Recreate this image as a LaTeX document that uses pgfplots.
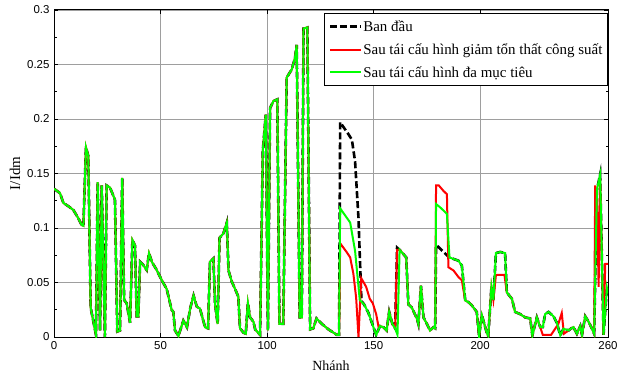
\documentclass[border=0pt]{standalone}
\usepackage{fontspec}
\setmainfont{Liberation Serif}
\newfontfamily\ticksf{Liberation Sans}
\usepackage{pgfplots}
\pgfplotsset{compat=1.18}
\definecolor{mgreen}{RGB}{0,255,0}
\definecolor{mred}{RGB}{255,0,0}
\begin{document}
\begin{tikzpicture}
\begin{axis}[
  name=ax,
  scale only axis,
  width=554bp, height=327bp,
  xmin=0, xmax=260, ymin=0, ymax=0.3,
  xtick={0,50,100,150,200,260},
  xticklabels={0,50,100,150,200,260},
  ytick={0,0.05,0.1,0.15,0.2,0.25,0.3},
  yticklabels={0,0.05,0.1,0.15,0.2,0.25,0.3},
  minor y tick num=1,
  tick align=inside,
  major tick length=4bp, minor tick length=2.5bp,
  tick style={black, line width=0.6bp},
  /pgf/number format/assume math mode=true,
  ticklabel style={font=\ticksf\fontsize{11.5}{13}\selectfont},
  yticklabel style={xshift=-1bp},
  xticklabel style={yshift=-1bp},
  grid=major,
  major grid style={black!38, line width=0.6bp},
  axis line style={black, line width=1bp},
  xlabel={Nhánh},
  ylabel={I/Idm},
  every axis x label/.style={at={(axis description cs:0.5,-0.0887)}, anchor=center, font=\fontsize{14}{16}\selectfont},
  every axis y label/.style={at={(axis description cs:-0.0704,0.5)}, rotate=90, anchor=center, font=\fontsize{15}{17}\selectfont},
  legend style={at={(rel axis cs:1,1)}, anchor=north east, yshift=-3bp,
    draw=black, line width=1.2bp, fill=white,
    font=\fontsize{15}{17}\selectfont, inner xsep=4bp, inner ysep=6bp, row sep=8.5bp,
    nodes={inner sep=1bp}},
  legend cell align=left,
  legend image code/.code={\draw[#1] plot coordinates {(0bp,0bp) (31bp,0bp)};},
]
% Ban dau
\addplot[black, line width=2.6bp, dash pattern=on 7bp off 3bp] coordinates {
(0,.136)(2.8,.132)(4.4,.123)(6.7,.120)(9.1,.1165)(11.4,.109)(13,.1027)(13.8,.102)(15,.174)(16.1,.166)(17.2,.027)(19.7,.002)(20.5,.142)(21.6,.006)(22.4,.139)(23.9,0)(24.7,.139)(26.3,.137)(28.6,.126)(29.7,.005)(31,.006)(32,.146)(32.9,.034)(34.1,.031)(35.7,.013)(36.8,.089)(38,.084)(38.8,.019)(39.6,.019)(40.4,.069)(41.9,.066)(43.5,.0615)(44.6,.0768)(45.9,.069)(48.2,.0615)(50.6,.052)(52.9,.044)(55.2,.025)(56,.023)(56.8,.006)(58.4,.001)(60.7,.015)(62.4,.009)(64,.027)(65.5,.038)(67,.028)(68.5,.026)(69.5,.019)(70.9,.009)(72.3,.008)(73.2,.069)(74.8,.072)(75.6,.030)(76.8,.012)(77.7,.091)(79.5,.095)(81.1,.105)(81.9,.061)(83.4,.051)(85,.044)(86.5,.037)(87.3,.008)(88.9,.004)(90,.003)(91,.031)(92,.018)(93.6,.014)(94.4,.007)(96.7,.002)(98,.171)(99.4,.204)(100.4,.006)(101.4,.210)(103,.2165)(104.8,.218)(105.8,.012)(107.6,.012)(109.2,.238)(111.6,.2455)(113.1,.256)(113.9,.268)(115.3,.018)(116.3,.018)(117.1,.283)(118.9,.284)(120.2,.007)(121.7,.008)(123.2,.017)(125.7,.012)(128.8,.007)(132.7,.002)(133.8,.002)
(134.3,.197)(138.2,.186)(139.8,.181)(141.3,.161)(142.9,.109)(143.6,.07)(144.3,.033)
(145.5,.030)(147.6,.022)(149.9,.009)(151.2,.002)(153,.010)(154.6,.009)(156.1,.006)(157.3,.023)(158.8,.012)(160.1,.008)
(161,.082)(162.2,.080)
(164,.076)(165.3,.073)(166.3,.030)(167.9,.027)(170.3,.017)(171,.012)(172.2,.047)(173.4,.018)(175,.012)(176.5,.006)(178.1,.009)(178.9,.008)
(179.3,.084)(180.2,.083)(184.4,.075)(185.6,.073)(187.5,.0716)(189.8,.070)(191.4,.0655)
(193,.0335)(194.5,.032)(196.1,.029)(198.4,.023)(199.5,.001)(200.8,.020)(203.1,.004)(203.8,.001)(205.3,.046)(206.2,.034)
(207.4,.077)(209.4,.078)(211.7,.077)
(212.5,.041)(214.9,.035)(216.4,.023)(218.8,.021)(221.1,.018)(223.5,.017)(224.5,.0015)(226.6,.018)(228.2,.009)
(229.4,.009)(230.5,.021)(232.1,.023)(234.4,.019)(236,.013)(237.6,.0015)(239.1,.0076)
(241.5,.006)(242.5,.0076)(243.8,.009)(245.4,.003)(247,.010)(247.8,.002)(249.3,.019)(250.9,.014)(252.4,.008)(253.5,.003)
(254.8,.135)(256.3,.149)(257.9,.002)(259.5,.045)(260,.04)
};
\addlegendentry{Ban đầu}
% Giam ton that
\addplot[mred, line width=2bp] coordinates {
(0,.136)(2.8,.132)(4.4,.123)(6.7,.120)(9.1,.1165)(11.4,.109)(13,.1027)(13.8,.102)(15,.174)(16.1,.166)(17.2,.027)(19.7,.002)(20.5,.142)(21.6,.006)(22.4,.139)(23.9,0)(24.7,.139)(26.3,.137)(28.6,.126)(29.7,.005)(31,.006)(32,.146)(32.9,.034)(34.1,.031)(35.7,.013)(36.8,.089)(38,.084)(38.8,.019)(39.6,.019)(40.4,.069)(41.9,.066)(43.5,.0615)(44.6,.0768)(45.9,.069)(48.2,.0615)(50.6,.052)(52.9,.044)(55.2,.025)(56,.023)(56.8,.006)(58.4,.001)(60.7,.015)(62.4,.009)(64,.027)(65.5,.038)(67,.028)(68.5,.026)(69.5,.019)(70.9,.009)(72.3,.008)(73.2,.069)(74.8,.072)(75.6,.030)(76.8,.012)(77.7,.091)(79.5,.095)(81.1,.105)(81.9,.061)(83.4,.051)(85,.044)(86.5,.037)(87.3,.008)(88.9,.004)(90,.003)(91,.031)(92,.018)(93.6,.014)(94.4,.007)(96.7,.002)(98,.171)(99.4,.204)(100.4,.006)(101.4,.210)(103,.2165)(104.8,.218)(105.8,.012)(107.6,.012)(109.2,.238)(111.6,.2455)(113.1,.256)(113.9,.268)(115.3,.018)(116.3,.018)(117.1,.283)(118.9,.284)(120.2,.007)(121.7,.008)(123.2,.017)(125.7,.012)(128.8,.007)(132.7,.002)(133.8,.002)
(134.3,.086)(137.3,.078)(139,.073)(140.5,.058)(141.8,.036)(142.9,0)(144.2,.054)(146.5,.046)(148.2,.035)(149.6,.031)(151.2,.021)(152.3,.0095)(153,.010)
(154.6,.009)(156.1,.006)(157.3,.023)(158.8,.012)(160.1,.008)
(161,.080)(162.2,.080)
(164,.076)(165.3,.073)(166.3,.030)(167.9,.027)(170.3,.017)(171,.012)(172.2,.047)(173.4,.018)(175,.012)(176.5,.006)(178.1,.009)(178.9,.008)
(179.3,.139)(180.6,.139)(182.8,.134)(184.4,.131)(185.1,.064)(187.5,.061)(189.8,.055)(191.4,.052)
(193,.0335)(194.5,.032)(196.1,.029)(198.4,.023)(199.5,.001)(200.8,.020)(203.1,.004)(203.8,.001)(205.3,.046)(206.2,.034)
(207.4,.057)(211.4,.057)
(212.5,.041)(214.9,.035)(216.4,.023)(218.8,.021)(221.1,.018)(223.5,.017)(224.5,.0015)(226.6,.018)(228.2,.009)
(229.4,.002)(233.3,.002)(236.7,.012)(238.3,.022)(239.3,.003)
(241.5,.006)(242.5,.0076)(243.8,.009)(245.4,.003)(247,.010)(247.8,.002)(249.3,.019)(250.9,.014)(252.4,.008)(253.5,.003)
(254,.139)(254.8,.131)(255.6,.046)(256.3,.145)(257.9,.002)(258.7,.067)(260,.067)
};
\addlegendentry{Sau tái cấu hình giảm tổn thất công suất}
% Da muc tieu
\addplot[mgreen, line width=2bp] coordinates {
(0,.136)(2.8,.132)(4.4,.123)(6.7,.120)(9.1,.1165)(11.4,.109)(13,.1027)(13.8,.102)(15,.174)(16.1,.166)(17.2,.027)(19.7,.002)(20.5,.142)(21.6,.006)(22.4,.139)(23.9,0)(24.7,.139)(26.3,.137)(28.6,.126)(29.7,.005)(31,.006)(32,.146)(32.9,.034)(34.1,.031)(35.7,.013)(36.8,.089)(38,.084)(38.8,.019)(39.6,.019)(40.4,.069)(41.9,.066)(43.5,.0615)(44.6,.0768)(45.9,.069)(48.2,.0615)(50.6,.052)(52.9,.044)(55.2,.025)(56,.023)(56.8,.006)(58.4,.001)(60.7,.015)(62.4,.009)(64,.027)(65.5,.038)(67,.028)(68.5,.026)(69.5,.019)(70.9,.009)(72.3,.008)(73.2,.069)(74.8,.072)(75.6,.030)(76.8,.012)(77.7,.091)(79.5,.095)(81.1,.105)(81.9,.061)(83.4,.051)(85,.044)(86.5,.037)(87.3,.008)(88.9,.004)(90,.003)(91,.031)(92,.018)(93.6,.014)(94.4,.007)(96.7,.002)(98,.171)(99.4,.204)(100.4,.006)(101.4,.210)(103,.2165)(104.8,.218)(105.8,.012)(107.6,.012)(109.2,.238)(111.6,.2455)(113.1,.256)(113.9,.268)(115.3,.018)(116.3,.018)(117.1,.283)(118.9,.284)(120.2,.007)(121.7,.008)(123.2,.017)(125.7,.012)(128.8,.007)(132.7,.002)(133.8,.002)
(134.3,.118)(139,.105)(141.3,.079)(143.5,.034)
(145.5,.030)(147.6,.022)(149.9,.009)(151.2,.002)(153,.010)(154.6,.009)(156.1,.006)(157.3,.023)(158.8,.012)(160.1,.008)
(161.2,.002)(162.2,.080)
(164,.076)(165.3,.073)(166.3,.030)(167.9,.027)(170.3,.017)(171,.012)(172.2,.047)(173.4,.018)(175,.012)(176.5,.006)(178.1,.009)(178.9,.008)
(179.3,.122)(181.2,.119)(184.4,.113)(185.6,.073)(187.5,.0716)(189.8,.070)(191.4,.0655)
(193,.0335)(194.5,.032)(196.1,.029)(198.4,.023)(199.5,.001)(200.8,.020)(203.1,.004)(203.8,.001)(205.3,.046)(206.2,.034)
(207.4,.077)(209.4,.078)(211.7,.077)
(212.5,.041)(214.9,.035)(216.4,.023)(218.8,.021)(221.1,.018)(223.5,.017)(224.5,.0015)(226.6,.018)(228.2,.009)
(229.4,.009)(230.5,.021)(232.1,.023)(234.4,.019)(236,.013)(237.6,.0015)(239.1,.0076)
(241.5,.006)(242.5,.0076)(243.8,.009)(245.4,.003)(247,.010)(247.8,.002)(249.3,.019)(250.9,.014)(252.4,.008)(253.5,.003)
(254.8,.135)(256.3,.149)(257.9,.002)(259.5,.045)(260,.04)
};
\addlegendentry{Sau tái cấu hình đa mục tiêu}
\end{axis}
\pgfresetboundingbox
\path ([xshift=-54bp,yshift=-39bp]ax.south west) rectangle ([xshift=11bp,yshift=10bp]ax.north east);
\end{tikzpicture}
\end{document}
